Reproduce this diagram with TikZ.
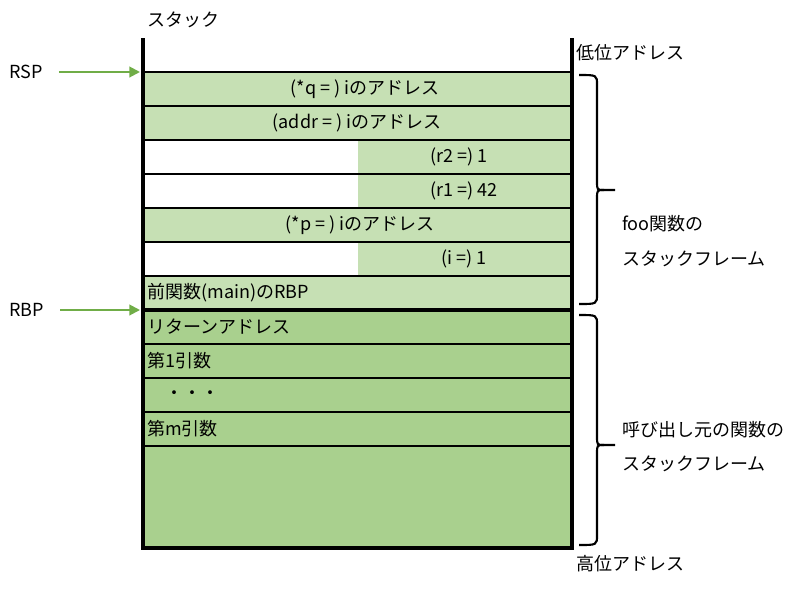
\documentclass[tikz,border=0pt]{standalone}
\usepackage{fontspec}
\setmainfont{Noto Sans CJK JP}
\usetikzlibrary{arrows.meta}

\definecolor{lightgreen}{HTML}{C6E0B4}
\definecolor{darkgreen}{HTML}{A9D08E}
\definecolor{ptrgreen}{HTML}{70AD47}

\tikzset{
  cell/.style={inner sep=0pt, anchor=center},
  lcell/.style={inner sep=0pt, anchor=west},
  tag/.style={inner sep=0pt, anchor=west},
  ptr/.style={draw=ptrgreen, line width=1.5pt, -{Triangle[length=8pt,width=8pt]}, shorten <=12pt},
  bracket/.style={line width=1.6pt},
}

\begin{document}
\begin{tikzpicture}[x=0.75pt, y=-0.75pt, font=\fontsize{13.5}{16}\selectfont]
  \useasboundingbox (0,0) rectangle (809,590);

  % fills
  \fill[lightgreen] (143,72) rectangle (572,140);
  \fill[lightgreen] (358,140) rectangle (572,208);
  \fill[lightgreen] (143,208) rectangle (572,242);
  \fill[lightgreen] (358,242) rectangle (572,276);
  \fill[lightgreen] (143,276) rectangle (572,310);
  \fill[darkgreen] (143,310) rectangle (572,548);

  % row lines
  \foreach \y in {72,106,140,174,208,242,276,344,378,412,446}
    \draw[line width=2pt] (143,\y) -- (572,\y);
  \draw[line width=2.6pt] (143,310) -- (572,310);
  \draw[line width=2.6pt] (143,38) -- (143,548) -- (572,548) -- (572,38);

  % cells
  \node[cell] (q) at (365,89) {(*q = ) iのアドレス};
  \node[cell] (addr) at (357,123) {(addr = ) iのアドレス};
  \node[cell] (r2) at (459,157) {(r2 =) 1};
  \node[cell] (r1) at (464,191) {(r1 =) 42};
  \node[cell] (p) at (360,225) {(*p = ) iのアドレス};
  \node[cell] (i) at (464,259) {(i =) 1};
  \node[lcell] (rbpval) at (147,293) {前関数(main)のRBP};
  \node[lcell] (ret) at (147,327) {リターンアドレス};
  \node[lcell] (arg1) at (147,361) {第1引数};
  \node[lcell] (dots) at (165,395) {・・・};
  \node[lcell] (argm) at (147,429) {第m引数};

  % labels
  \node[tag] (stack) at (147,20) {スタック};
  \node[tag] (low) at (576,53) {低位アドレス};
  \node[tag] (high) at (576,564) {高位アドレス};
  \node[tag] (foo1) at (622,224) {foo関数の};
  \node[tag] (foo2) at (622,259) {スタックフレーム};
  \node[tag] (caller1) at (622,430) {呼び出し元の関数の};
  \node[tag] (caller2) at (622,464) {スタックフレーム};

  % pointers
  \node[tag] (rsp) at (9,72) {RSP};
  \node[tag] (rbp) at (9,310) {RBP};
  \coordinate (rsptip) at (140,72);
  \coordinate (rbptip) at (140,310);
  \draw[ptr] (rsp.east) -- (rsptip);
  \draw[ptr] (rbp.east) -- (rbptip);

  % braces
  \draw[bracket] (579,75) .. controls (597,75) .. (597,85) -- (597,181)
    .. controls (597,190) .. (604,190) -- (615,190);
  \draw[bracket] (579,304) .. controls (597,304) .. (597,294) -- (597,199)
    .. controls (597,190) .. (604,190);
  \draw[bracket] (579,315) .. controls (597,315) .. (597,325) -- (597,436)
    .. controls (597,445) .. (604,445) -- (615,445);
  \draw[bracket] (579,545) .. controls (597,545) .. (597,535) -- (597,454)
    .. controls (597,445) .. (604,445);
\end{tikzpicture}
\end{document}
